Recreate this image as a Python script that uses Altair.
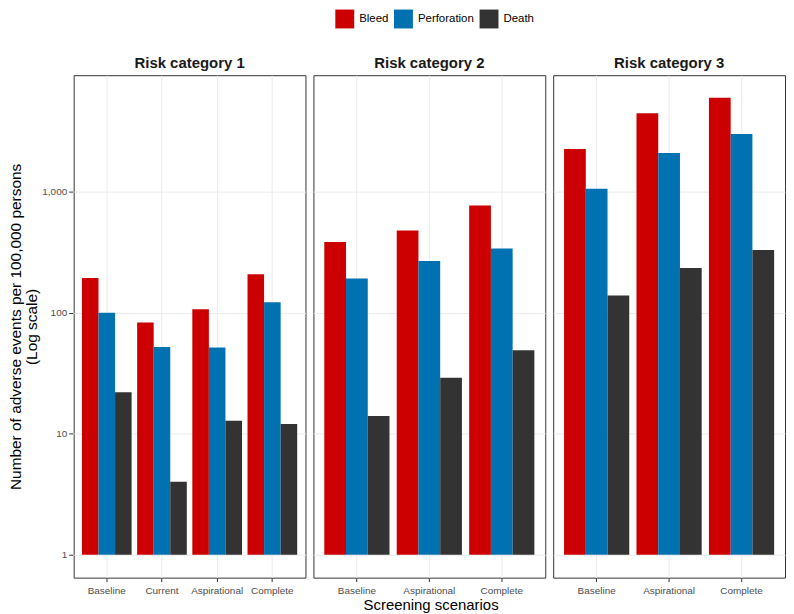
import altair as alt
import pandas as pd

events = ["Bleed", "Perforation", "Death"]
colors = ["#CC0000", "#0072B2", "#333333"]
risk_groups = ["Risk category 1", "Risk category 2", "Risk category 3"]
scenario_order = ["Baseline", "Current", "Aspirational", "Complete"]

rc1_scen = ["Baseline", "Current", "Aspirational", "Complete"]
rc1_bleed = [194, 83, 107, 208]
rc1_perf = [100, 52, 51.5, 122]
rc1_death = [22, 4, 12.8, 12]

rc2_scen = ["Baseline", "Aspirational", "Complete"]
rc2_bleed = [384, 479, 769]
rc2_perf = [192, 268, 339]
rc2_death = [14, 29, 49]

rc3_scen = ["Baseline", "Aspirational", "Complete"]
rc3_bleed = [2250, 4450, 5970]
rc3_perf = [1060, 2090, 3000]
rc3_death = [139, 234, 330]

y_ticks = [1, 10, 100, 1000]

rows = []
for risk, scen, series in [
    (risk_groups[0], rc1_scen, [rc1_bleed, rc1_perf, rc1_death]),
    (risk_groups[1], rc2_scen, [rc2_bleed, rc2_perf, rc2_death]),
    (risk_groups[2], rc3_scen, [rc3_bleed, rc3_perf, rc3_death]),
]:
    for ev, vals in zip(events, series):
        for s, v in zip(scen, vals):
            rows.append({"Risk": risk, "Scenario": s, "Event": ev, "Value": v, "Base": 1})
df = pd.DataFrame(rows)

FONT = "Liberation Sans"

base = alt.Chart(df).mark_bar().encode(
    x=alt.X(
        "Scenario:N",
        sort=scenario_order,
        scale=alt.Scale(paddingInner=0.1, paddingOuter=0.15),
        axis=alt.Axis(
            title=None, labelAngle=0, bandPosition=0.5, domain=False,
            tickColor="#333333", tickSize=4, labelColor="#4D4D4D",
            labelFontSize=10, labelFont=FONT, labelPadding=4,
            grid=True, gridColor="#EBEBEB", gridWidth=1,
        ),
    ),
    xOffset=alt.XOffset("Event:N", sort=events),
    y=alt.Y(
        "Value:Q",
        scale=alt.Scale(type="log", domain=[0.646, 9183], nice=False),
        axis=alt.Axis(
            values=y_ticks, format=",", domain=False,
            tickColor="#333333", tickSize=4, labelColor="#4D4D4D",
            labelFontSize=10, labelFont=FONT, labelPadding=2,
            grid=True, gridColor="#EBEBEB", gridWidth=1,
            title=["Number of adverse events per 100,000 persons", "(Log scale)"],
            titleFontSize=15.5, titleFontWeight="normal", titleColor="#000000",
            titleFont=FONT, titlePadding=2, titleLineHeight=16,
        ),
    ),
    y2="Base:Q",
    color=alt.Color(
        "Event:N",
        scale=alt.Scale(domain=events, range=colors),
        legend=alt.Legend(
            title=None, orient="none", direction="horizontal",
            legendX=263, legendY=-66,
            symbolType="square", symbolSize=361, symbolStrokeWidth=0,
            symbolOpacity=1,
            labelFontSize=11.5, labelFont=FONT, labelColor="#000000",
            labelOffset=5, columnPadding=5,
        ),
    ),
).properties(width=233, height=505)

chart = base.facet(
    column=alt.Column(
        "Risk:N", sort=risk_groups, title=None,
        header=alt.Header(labelFontSize=15, labelFontWeight="bold",
                          labelColor="#1A1A1A", labelFont=FONT, labelPadding=3),
    ),
    spacing=6,
).resolve_scale(x="independent", xOffset="independent").properties(
    title=alt.TitleParams("Screening scenarios", orient="bottom", anchor="middle",
                          fontSize=15, fontWeight="normal", font=FONT,
                          color="#000000", offset=2, dx=34),
    padding={"left": 0, "top": 0, "right": 0, "bottom": 0},
).configure_view(stroke="#333333", strokeWidth=1)

chart.save("out.html", embed_options={"renderer": "svg", "actions": False})
